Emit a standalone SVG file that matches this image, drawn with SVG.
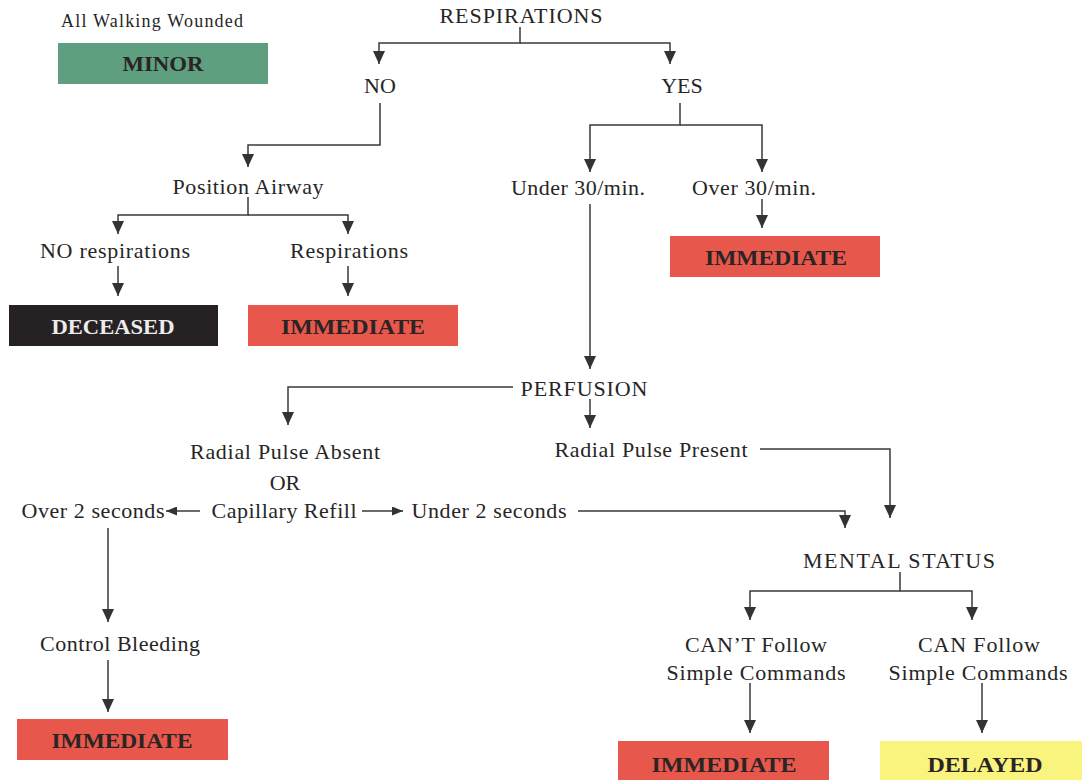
<svg xmlns="http://www.w3.org/2000/svg" width="1082" height="780" viewBox="0 0 1082 780">
<style>
.t{font-family:"Liberation Serif","Times New Roman",serif;font-size:22px;fill:#262626;text-anchor:middle}
.s{font-size:18px}
.b{font-family:"Liberation Serif","Times New Roman",serif;font-size:22px;font-weight:bold;fill:#2b2424;text-anchor:middle}
.c{fill:none;stroke:#3a3a3a;stroke-width:1.5}
.a{marker-end:url(#ah)}
.sa{marker-end:url(#sah)}
</style>
<defs>
<marker id="ah" markerUnits="userSpaceOnUse" markerWidth="13" markerHeight="12" refX="13" refY="6" orient="auto" viewBox="0 0 13 12">
<path d="M0,0 L13,6 L0,12 Z" fill="#333"/>
</marker>
<marker id="sah" markerUnits="userSpaceOnUse" markerWidth="11" markerHeight="9" refX="11" refY="4.5" orient="auto" viewBox="0 0 11 9">
<path d="M0,0 L11,4.5 L0,9 Z" fill="#333"/>
</marker>
</defs>
<rect width="1082" height="780" fill="#ffffff"/>
<g id="connectors">
<path class="c a" d="M520,27 V43 H379 V64"/>
<path class="c a" d="M520,43 H670 V64"/>
<path class="c a" d="M380,103 V145 H248 V167"/>
<path class="c a" d="M248,197 V215 H118 V234"/>
<path class="c a" d="M248,215 H348 V234"/>
<path class="c a" d="M118,266 V296"/>
<path class="c a" d="M348,266 V296"/>
<path class="c a" d="M680,103 V125 H590 V172"/>
<path class="c a" d="M680,125 H762 V172"/>
<path class="c a" d="M762,199 V228"/>
<path class="c a" d="M590,204 V369"/>
<path class="c a" d="M513,387 H288 V425"/>
<path class="c a" d="M590,399 V428"/>
<path class="c a" d="M760,449 H890 V518"/>
<path class="c sa" d="M200,511 H166"/>
<path class="c sa" d="M362,511 H403"/>
<path class="c a" d="M578,511 H845 V528"/>
<path class="c a" d="M108,528 V622"/>
<path class="c a" d="M108,660 V712"/>
<path class="c a" d="M900,572 V591 H750 V620"/>
<path class="c a" d="M900,591 H972 V620"/>
<path class="c a" d="M750,683 V733"/>
<path class="c a" d="M982,683 V733"/>
</g>
<g id="walking"><text class="t s" x="152" y="27" textLength="182" lengthAdjust="spacing">All Walking Wounded</text></g>
<g id="minor"><rect x="58" y="43" width="210" height="41" fill="#5e9f7f"/><text class="b" x="163" y="71" textLength="81" lengthAdjust="spacingAndGlyphs">MINOR</text></g>
<g id="respirations"><text class="t" x="521" y="23" textLength="163" lengthAdjust="spacing">RESPIRATIONS</text></g>
<g id="no"><text class="t" x="380" y="93">NO</text></g>
<g id="yes"><text class="t" x="682" y="93">YES</text></g>
<g id="position-airway"><text class="t" x="248" y="194" textLength="151" lengthAdjust="spacing">Position Airway</text></g>
<g id="no-respirations"><text class="t" x="115" y="258" textLength="150" lengthAdjust="spacing">NO respirations</text></g>
<g id="respirations2"><text class="t" x="349" y="258" textLength="118" lengthAdjust="spacing">Respirations</text></g>
<g id="deceased"><rect x="9" y="305" width="209" height="41" fill="#262224"/><text class="b" x="113" y="334" textLength="123" lengthAdjust="spacingAndGlyphs" style="fill:#ececec">DECEASED</text></g>
<g id="immediate1"><rect x="248" y="305" width="210" height="41" fill="#e8574b"/><text class="b" x="353" y="334" textLength="144" lengthAdjust="spacingAndGlyphs">IMMEDIATE</text></g>
<g id="under30"><text class="t" x="578" y="195" textLength="134" lengthAdjust="spacing">Under 30/min.</text></g>
<g id="over30"><text class="t" x="754" y="195" textLength="124" lengthAdjust="spacing">Over 30/min.</text></g>
<g id="immediate2"><rect x="670" y="236" width="210" height="41" fill="#e8574b"/><text class="b" x="776" y="265" textLength="142" lengthAdjust="spacingAndGlyphs">IMMEDIATE</text></g>
<g id="perfusion"><text class="t" x="584" y="396" textLength="127" lengthAdjust="spacing">PERFUSION</text></g>
<g id="pulse-absent"><text class="t" x="285" y="459" textLength="190" lengthAdjust="spacing">Radial Pulse Absent</text><text class="t" x="285" y="490">OR</text><text class="t" x="284" y="518" textLength="145" lengthAdjust="spacing">Capillary Refill</text></g>
<g id="pulse-present"><text class="t" x="651" y="457" textLength="193" lengthAdjust="spacing">Radial Pulse Present</text></g>
<g id="over2"><text class="t" x="93" y="518" textLength="143" lengthAdjust="spacing">Over 2 seconds</text></g>
<g id="under2"><text class="t" x="489" y="518" textLength="155" lengthAdjust="spacing">Under 2 seconds</text></g>
<g id="control-bleeding"><text class="t" x="120" y="651" textLength="160" lengthAdjust="spacing">Control Bleeding</text></g>
<g id="immediate3"><rect x="17" y="719" width="211" height="41" fill="#e8574b"/><text class="b" x="122" y="748" textLength="141" lengthAdjust="spacingAndGlyphs">IMMEDIATE</text></g>
<g id="mental-status"><text class="t" x="899" y="568" textLength="192" lengthAdjust="spacing">MENTAL STATUS</text></g>
<g id="cant-follow"><text class="t" x="756" y="652" textLength="142" lengthAdjust="spacing">CAN’T Follow</text><text class="t" x="756" y="680" textLength="179" lengthAdjust="spacing">Simple Commands</text></g>
<g id="can-follow"><text class="t" x="979" y="652" textLength="122" lengthAdjust="spacing">CAN Follow</text><text class="t" x="978" y="680" textLength="179" lengthAdjust="spacing">Simple Commands</text></g>
<g id="immediate4"><rect x="618" y="741" width="211" height="41" fill="#e8574b"/><text class="b" x="724" y="772" textLength="145" lengthAdjust="spacingAndGlyphs">IMMEDIATE</text></g>
<g id="delayed"><rect x="880" y="741" width="204" height="41" fill="#f8f47e"/><text class="b" x="985" y="772" textLength="115" lengthAdjust="spacingAndGlyphs">DELAYED</text></g>
</svg>
